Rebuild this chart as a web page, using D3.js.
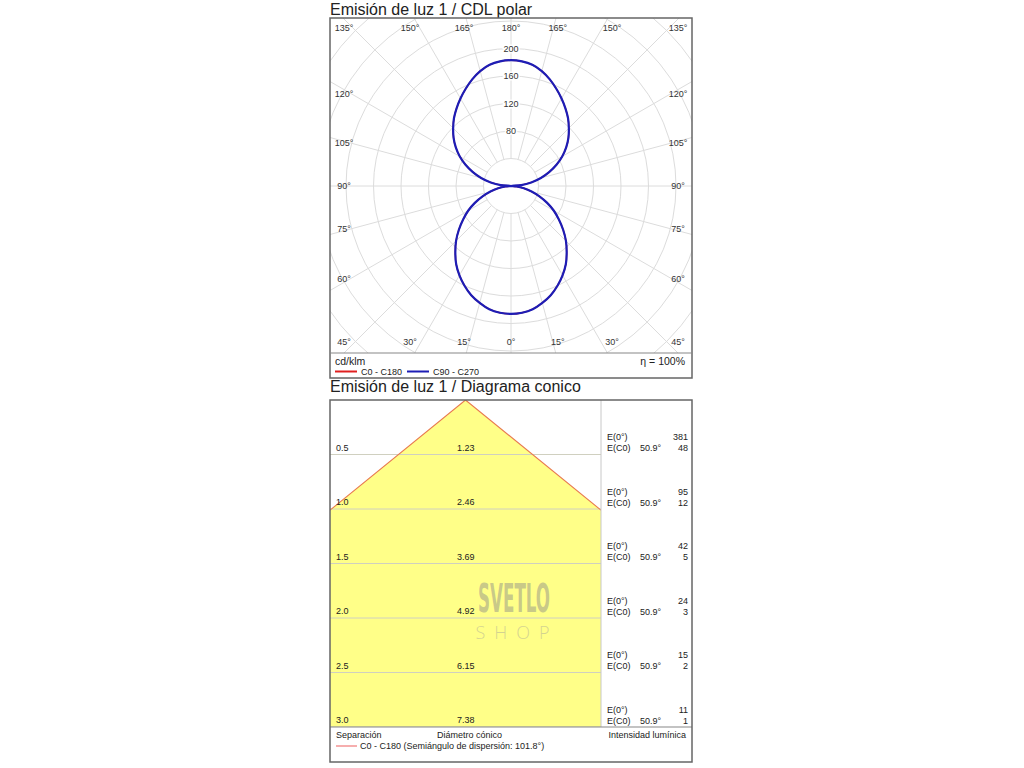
<!DOCTYPE html>
<html><head><meta charset="utf-8">
<script src="https://cdn.jsdelivr.net/npm/d3@7"></script>
<style>
body{margin:0;background:#fff;}
svg{display:block;font-family:"Liberation Sans",Arial,Helvetica,sans-serif;}
</style>
</head><body>
<svg id="chart" width="1024" height="768"></svg>
<script>
// ---------- DATA ----------
const gammaAngles = [0,5,10,15,20,25,30,35,40,45,50,55,60,65,70,75,80,85,90,
  95,100,105,110,115,120,125,130,135,140,145,150,155,160,165,170,175,180];
const intensityC0C180 = [186,185,182,176,169,160,150,139,126,113,99,85,72,58,44,31,19,8,0,
  15,30,45,59,73,86,98,109,119,129,138,147,156,165,173,179,182,183];
const intensityC90C270 = [186,185,182,176,169,160,150,139,126,113,99,85,72,58,44,31,19,8,0,
  15,30,45,59,73,86,98,109,119,129,138,147,156,165,173,179,182,183];
const radialGrid = [40,80,120,160,200,240,280,320,360,400];
const radialTickLabels = [80,120,160,200];
const angleGrid = d3.range(0,360,15);
const angleLabels = [0,15,30,45,60,75,90,105,120,135,150,165,180];

const conicHeights = [0.5,1.0,1.5,2.0,2.5,3.0];
const conicDiameters = ["1.23","2.46","3.69","4.92","6.15","7.38"];
const conicE0 = [381,95,42,24,15,11];
const conicEC0 = [48,12,5,3,2,1];
const conicHalfAngle = "50.9°";
const spreadHalfAngle = "101.8°";

// ---------- SETUP ----------
const svg = d3.select("#chart");
const ink = "#222";

// ================= POLAR =================
const P = {x:330, y:18, w:362, h:360, plotH:335};
const cx = 511, cy = 186;
const r = d3.scaleLinear().domain([0,200]).range([0,137.5]);

svg.append("text").attr("x",330).attr("y",14.5).attr("font-size",16).attr("fill",ink)
  .text("Emisión de luz 1 / CDL polar");

const defs = svg.append("defs");
defs.append("clipPath").attr("id","pclip")
  .append("rect").attr("x",P.x).attr("y",P.y).attr("width",P.w).attr("height",P.plotH);

const pg = svg.append("g").attr("clip-path","url(#pclip)");
pg.selectAll("circle.grid").data(radialGrid).join("circle")
  .attr("cx",cx).attr("cy",cy).attr("r",d=>r(d))
  .attr("fill","none").attr("stroke","#dcdcdc").attr("stroke-width",1);
pg.selectAll("line.spoke").data(angleGrid).join("line")
  .attr("x1",d=>cx+r(40)*Math.sin(d*Math.PI/180))
  .attr("y1",d=>cy+r(40)*Math.cos(d*Math.PI/180))
  .attr("x2",d=>cx+r(400)*Math.sin(d*Math.PI/180))
  .attr("y2",d=>cy+r(400)*Math.cos(d*Math.PI/180))
  .attr("stroke","#dcdcdc").attr("stroke-width",1);

function curvePoints(vals){
  const right = gammaAngles.map((g,i)=>({a:Math.PI - g*Math.PI/180, v:vals[i]}));
  const left = [];
  for (let i=gammaAngles.length-2;i>=1;i--) left.push({a:Math.PI + gammaAngles[i]*Math.PI/180, v:vals[i]});
  return right.concat(left);
}
const radial = d3.lineRadial().angle(d=>d.a).radius(d=>r(d.v)).curve(d3.curveCatmullRomClosed.alpha(0.5));
pg.append("path").attr("transform",`translate(${cx},${cy})`)
  .attr("d",radial(curvePoints(intensityC0C180)))
  .attr("fill","none").attr("stroke","#e02020").attr("stroke-width",1.4);
pg.append("path").attr("transform",`translate(${cx},${cy})`)
  .attr("d",radial(curvePoints(intensityC90C270)))
  .attr("fill","none").attr("stroke","#1d1db5").attr("stroke-width",2.2);

svg.selectAll("text.rt").data(radialTickLabels).join("text")
  .attr("x",cx).attr("y",d=>cy-r(d)).attr("dy","0.35em")
  .attr("text-anchor","middle").attr("font-size",9).attr("fill","#333")
  .attr("stroke","#fff").attr("stroke-width",3).attr("paint-order","stroke")
  .text(d=>d);

function angPos(a, side){
  const rad = a*Math.PI/180;
  if (a<=30 || a>=150 || a===45 || a===135){
    const y = a<90 ? 342 : 28;
    const t = a<90 ? Math.tan(rad) : Math.tan(Math.PI-rad);
    const dx = Math.min(167, 175*t);
    return [cx+side*dx, y];
  }
  return [cx+side*167, cy - 160*Math.tan(rad-Math.PI/2)];
}
const angData = [];
angleLabels.forEach(a=>{
  angData.push({a, p:angPos(a,-1)});
  if (a!==0 && a!==180) angData.push({a, p:angPos(a,1)});
});
svg.selectAll("text.ang").data(angData).join("text")
  .attr("x",d=>d.p[0]).attr("y",d=>d.p[1]).attr("dy","0.35em")
  .attr("text-anchor","middle").attr("font-size",9).attr("fill","#333")
  .text(d=>d.a+"°");

svg.append("rect").attr("x",P.x).attr("y",P.y).attr("width",P.w).attr("height",P.h)
  .attr("fill","none").attr("stroke","#666").attr("stroke-width",1.5);
svg.append("line").attr("x1",P.x).attr("x2",P.x+P.w).attr("y1",P.y+P.plotH).attr("y2",P.y+P.plotH)
  .attr("stroke","#888").attr("stroke-width",1.2);

svg.append("text").attr("x",335).attr("y",365).attr("font-size",10.5).attr("fill",ink).text("cd/klm");
svg.append("text").attr("x",685).attr("y",365).attr("text-anchor","end").attr("font-size",10.5).attr("fill",ink).text("η = 100%");
const pleg = [{x:335,label:"C0 - C180",c:"#e02020"},{x:407,label:"C90 - C270",c:"#1d1db5"}];
pleg.forEach(d=>{
  svg.append("line").attr("x1",d.x).attr("x2",d.x+22).attr("y1",371.5).attr("y2",371.5).attr("stroke",d.c).attr("stroke-width",2);
  svg.append("text").attr("x",d.x+26).attr("y",375).attr("font-size",9).attr("fill",ink).text(d.label);
});

// ================= CONIC =================
const C = {x:330, y:400, w:362, h:362, plotR:601, plotB:727};
svg.append("text").attr("x",330).attr("y",392).attr("font-size",16).attr("fill",ink)
  .text("Emisión de luz 1 / Diagrama conico");

const apexX = 465.5;
const yS = d3.scaleLinear().domain([0,3]).range([C.y, C.plotB]);
const pxPerM = (C.plotB - C.y)/3;
const xS = d3.scaleLinear().domain([0,1]).range([apexX, apexX+pxPerM]);

defs.append("clipPath").attr("id","cclip")
  .append("rect").attr("x",C.x).attr("y",C.y).attr("width",C.plotR-C.x).attr("height",C.plotB-C.y);
const cg = svg.append("g").attr("clip-path","url(#cclip)");

const hMax = conicHeights[conicHeights.length-1];
const halfMax = +conicDiameters[conicDiameters.length-1]/2;
const cone = [[0,0],[-halfMax,hMax],[halfMax,hMax]];
cg.append("path").attr("d", d3.line().x(d=>xS(d[0])).y(d=>yS(d[1]))(cone)+"Z")
  .attr("fill","#ffff88").attr("stroke","none");

cg.selectAll("line.row").data(conicHeights).join("line")
  .attr("x1",C.x).attr("x2",C.plotR).attr("y1",d=>yS(d)).attr("y2",d=>yS(d))
  .attr("stroke","#d0d0c0").attr("stroke-width",1);

cg.append("path").attr("d", d3.line().x(d=>xS(d[0])).y(d=>yS(d[1]))([[-halfMax,hMax],[0,0],[halfMax,hMax]]))
  .attr("fill","none").attr("stroke","#e87a50").attr("stroke-width",1.1);

// watermark
svg.append("g").attr("transform","translate(514,612) scale(1,1.75)")
  .append("text").attr("x",0).attr("y",0).attr("text-anchor","middle")
  .attr("font-family","'Liberation Sans Narrow','DejaVu Sans Condensed',sans-serif").attr("font-weight","bold")
  .attr("font-size",22).attr("textLength",72).attr("lengthAdjust","spacingAndGlyphs")
  .attr("fill","#9a9a88").attr("fill-opacity",0.55).text("SVETLO");
svg.append("text").attr("x",517).attr("y",639).attr("text-anchor","middle")
  .attr("font-family","'Open Sans','DejaVu Sans',sans-serif").attr("font-weight",300)
  .attr("font-size",18).attr("letter-spacing",9)
  .attr("fill","#a8a898").attr("fill-opacity",0.5).text("SHOP");

conicHeights.forEach((h,i)=>{
  const y = yS(h);
  svg.append("text").attr("x",336).attr("y",y-4).attr("font-size",9).attr("fill",ink).text(h.toFixed(1));
  svg.append("text").attr("x",457).attr("y",y-4).attr("font-size",9).attr("fill",ink).text(conicDiameters[i]);
  svg.append("text").attr("x",607).attr("y",y-14.5).attr("font-size",9).attr("fill",ink).text("E(0°)");
  svg.append("text").attr("x",607).attr("y",y-3.5).attr("font-size",9).attr("fill",ink).text("E(C0)");
  svg.append("text").attr("x",640).attr("y",y-3.5).attr("font-size",9).attr("fill",ink).text(conicHalfAngle);
  svg.append("text").attr("x",688).attr("y",y-14.5).attr("text-anchor","end").attr("font-size",9).attr("fill",ink).text(conicE0[i]);
  svg.append("text").attr("x",688).attr("y",y-3.5).attr("text-anchor","end").attr("font-size",9).attr("fill",ink).text(conicEC0[i]);
});

svg.append("line").attr("x1",C.plotR).attr("x2",C.plotR).attr("y1",C.y).attr("y2",C.plotB)
  .attr("stroke","#c8c8c8").attr("stroke-width",1);
svg.append("line").attr("x1",C.x).attr("x2",C.x+C.w).attr("y1",C.plotB).attr("y2",C.plotB)
  .attr("stroke","#888").attr("stroke-width",1.2);
svg.append("rect").attr("x",C.x).attr("y",C.y).attr("width",C.w).attr("height",C.h)
  .attr("fill","none").attr("stroke","#666").attr("stroke-width",1.5);

svg.append("text").attr("x",336).attr("y",738).attr("font-size",9).attr("fill",ink).text("Separación");
svg.append("text").attr("x",437).attr("y",738).attr("font-size",9).attr("fill",ink).text("Diámetro cónico");
svg.append("text").attr("x",686).attr("y",738).attr("text-anchor","end").attr("font-size",9).attr("fill",ink).text("Intensidad lumínica");
svg.append("line").attr("x1",336).attr("x2",357).attr("y1",746).attr("y2",746).attr("stroke","#f07878").attr("stroke-width",1.2);
svg.append("text").attr("x",360).attr("y",749).attr("font-size",9).attr("fill",ink)
  .text("C0 - C180 (Semiángulo de dispersión: " + spreadHalfAngle + ")");
</script>
</body></html>
